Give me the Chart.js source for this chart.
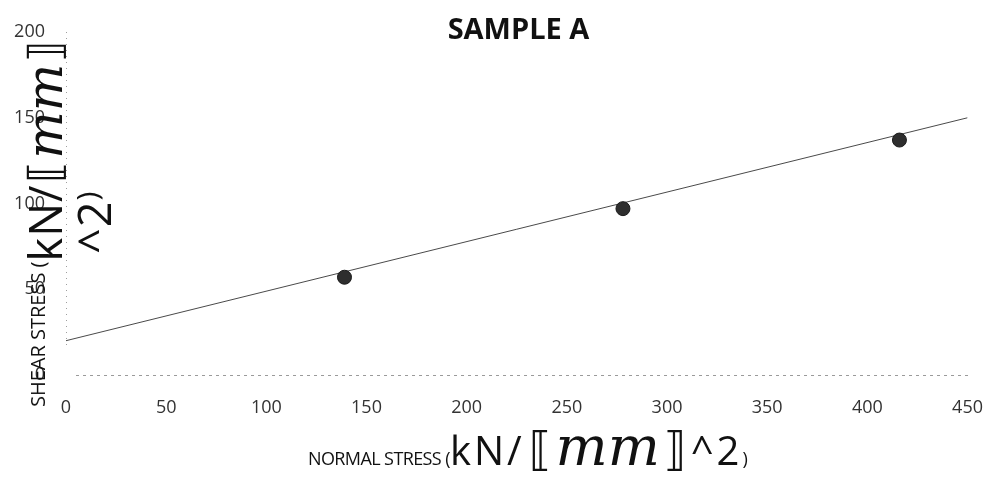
<!DOCTYPE html>
<html>
<head>
<meta charset="utf-8">
<script src="https://cdn.jsdelivr.net/npm/chart.js@4.4.1/dist/chart.umd.min.js"></script>
<style>
  html, body { margin: 0; padding: 0; background: #fff; }
  #wrap { position: relative; width: 1005px; height: 490px; overflow: hidden; }
  #wrap canvas { position: absolute; left: 0; top: 0; }
  .ttl { position: absolute; font-family: "Open Sans", sans-serif; color: #111; white-space: nowrap; }
  #title { left: 16px; width: 1005px; top: 11px; text-align: center; font-weight: bold; font-size: 29px; line-height: 34px; }
  #xtitle { left: 308px; top: 416px; line-height: 60px; }
  #ytitle { left: 17px; top: 23px; height: 400px; writing-mode: vertical-rl; transform: rotate(180deg); text-align: center; line-height: 42px; }
  #xtitle .sm { font-size: 18px; letter-spacing: -0.6px; }
  #xtitle .big { font-size: 40px; letter-spacing: 3px; }
  #xtitle .br { font-family: "DejaVu Sans", sans-serif; font-size: 46px; margin: 0 4px; }
  #xtitle .mi { font-family: "DejaVu Serif", serif; font-style: italic; font-size: 55px; }
  #ytitle .sm { font-size: 20px; }
  #ytitle .big { font-size: 45px; letter-spacing: 1px; vertical-align: -7px; }
  #ytitle .br { font-family: "DejaVu Sans", sans-serif; font-size: 44px; vertical-align: -7px; margin: 2px 0; }
  #ytitle .mi { font-family: "DejaVu Serif", serif; font-style: italic; font-size: 50px; vertical-align: -7px; }
  #ytitle .cl { font-size: 30px; }
</style>
</head>
<body>
<div id="wrap">
  <canvas id="c" width="1005" height="490"></canvas>
  <div id="title" class="ttl">SAMPLE A</div>
  <div id="xtitle" class="ttl"><span class="sm">NORMAL STRESS (</span><span class="big">kN/</span><span class="br">⟦</span><span class="mi">mm</span><span class="br">⟧</span><span class="big">^2</span><span class="sm">)</span></div>
  <div id="ytitle" class="ttl"><span class="sm">SHEAR STRESS (</span><span class="big">kN/</span><span class="br">⟦</span><span class="mi">mm</span><span class="br">⟧</span><br><span class="big">^2</span><span class="cl">)</span></div>
</div>
<script>
// Data
const normalStress = [139, 278, 416];
const shearStress = [57, 97, 137];
const trendNormal = [0, 450];
const trendShear = [20, 150];
const xTickValues = [0, 50, 100, 150, 200, 250, 300, 350, 400, 450];
const yTickValues = [0, 50, 100, 150, 200];

const pts = normalStress.map((x, i) => ({ x: x, y: shearStress[i] }));
const trend = trendNormal.map((x, i) => ({ x: x, y: trendShear[i] }));

const dottedAxes = {
  id: 'dottedAxes',
  beforeDatasetsDraw(chart) {
    const { ctx, chartArea: a, scales: { x, y } } = chart;
    ctx.save();
    ctx.lineWidth = 1;
    ctx.strokeStyle = '#9a9a9a';
    ctx.setLineDash([3, 4]);
    const y0 = Math.round(y.getPixelForValue(0)) + 0.5;
    ctx.beginPath();
    ctx.moveTo(x.getPixelForValue(5), y0);
    ctx.lineTo(a.right + 4, y0);
    ctx.stroke();
    ctx.strokeStyle = '#9e9e9e';
    ctx.setLineDash([1, 5]);
    const x0 = Math.round(x.getPixelForValue(0)) + 0.5;
    ctx.beginPath();
    ctx.moveTo(x0, a.top);
    ctx.lineTo(x0, y.getPixelForValue(15));
    ctx.stroke();
    ctx.restore();
  }
};

new Chart(document.getElementById('c'), {
  type: 'scatter',
  data: {
    datasets: [
      {
        label: 'Trend',
        data: trend,
        showLine: true,
        borderColor: '#4a4a4a',
        borderWidth: 1,
        pointRadius: 0,
        fill: false,
        order: 2
      },
      {
        label: 'Sample A',
        data: pts,
        pointRadius: 7,
        pointBackgroundColor: '#2e2e2e',
        pointBorderColor: '#1a1a1a',
        pointBorderWidth: 1,
        order: 1
      }
    ]
  },
  options: {
    responsive: false,
    animation: false,
    devicePixelRatio: 1,
    layout: { padding: { top: 32, right: 35, left: 0, bottom: 0 } },
    plugins: { legend: { display: false }, title: { display: false }, tooltip: { enabled: false } },
    scales: {
      x: {
        type: 'linear',
        min: 0, max: 450,
        afterBuildTicks: s => { s.ticks = xTickValues.map(v => ({ value: v })); },
        afterFit: s => { s.height = 115; },
        grid: { display: false, drawTicks: false },
        border: { display: false },
        ticks: { padding: 22, color: '#333', font: { family: 'Open Sans', size: 18 }, maxRotation: 0 }
      },
      y: {
        type: 'linear',
        min: 0, max: 200,
        afterBuildTicks: s => { s.ticks = yTickValues.map(v => ({ value: v })); },
        afterFit: s => { s.width = 66; },
        grid: { display: false, drawTicks: false },
        border: { display: false },
        ticks: { padding: 21, color: '#333', font: { family: 'Open Sans', size: 18 } }
      }
    }
  },
  plugins: [dottedAxes]
});
</script>
</body>
</html>
